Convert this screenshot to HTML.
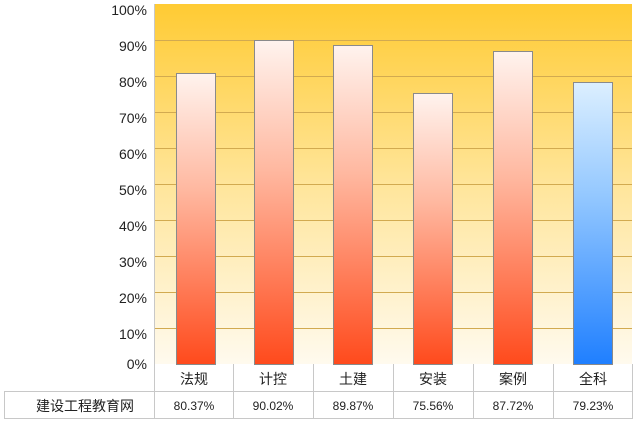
<!DOCTYPE html><html><head><meta charset="utf-8"><style>body{margin:0;background:#fff}svg{display:block}text{font-family:"Liberation Sans","Noto Sans CJK SC",sans-serif}</style></head><body>
<svg width="638" height="422" xmlns="http://www.w3.org/2000/svg">
<defs>
<linearGradient id="bg" x1="0" y1="0" x2="0" y2="1"><stop offset="0" stop-color="#ffcb33"/><stop offset="0.5" stop-color="#ffe59a"/><stop offset="1" stop-color="#fffaee"/></linearGradient>
<linearGradient id="r" x1="0" y1="0" x2="0" y2="1"><stop offset="0" stop-color="#fff3ee"/><stop offset="0.4" stop-color="#ffb8a0"/><stop offset="1" stop-color="#ff4a1c"/></linearGradient>
<linearGradient id="b" x1="0" y1="0" x2="0" y2="1"><stop offset="0" stop-color="#dcefff"/><stop offset="0.4" stop-color="#94c8ff"/><stop offset="1" stop-color="#1f7fff"/></linearGradient>
</defs>
<rect x="154" y="4" width="478" height="360" fill="url(#bg)"/>
<g stroke="#d2aa50" stroke-width="1">
<line x1="154" y1="40.5" x2="632" y2="40.5"/><line x1="154" y1="76.5" x2="632" y2="76.5"/><line x1="154" y1="112.5" x2="632" y2="112.5"/><line x1="154" y1="148.5" x2="632" y2="148.5"/><line x1="154" y1="184.5" x2="632" y2="184.5"/><line x1="154" y1="220.5" x2="632" y2="220.5"/><line x1="154" y1="256.5" x2="632" y2="256.5"/><line x1="154" y1="292.5" x2="632" y2="292.5"/><line x1="154" y1="328.5" x2="632" y2="328.5"/>
</g>
<line x1="154.5" y1="4" x2="154.5" y2="364" stroke="#c8c8c8"/>
<g stroke="#8a8a8a" stroke-width="1">
<rect x="176.5" y="73.5" width="39" height="291" fill="url(#r)"/>
<rect x="254.5" y="40.5" width="39" height="324" fill="url(#r)"/>
<rect x="333.5" y="45.5" width="39" height="319" fill="url(#r)"/>
<rect x="413.5" y="93.5" width="39" height="271" fill="url(#r)"/>
<rect x="493.5" y="51.5" width="39" height="313" fill="url(#r)"/>
<rect x="573.5" y="82.5" width="39" height="282" fill="url(#b)"/>
</g>
<g font-size="14" text-anchor="end" fill="#222">
<text x="147" y="15">100%</text><text x="147" y="51">90%</text><text x="147" y="87">80%</text><text x="147" y="123">70%</text><text x="147" y="159">60%</text><text x="147" y="195">50%</text><text x="147" y="231">40%</text><text x="147" y="267">30%</text><text x="147" y="303">20%</text><text x="147" y="339">10%</text><text x="147" y="369">0%</text>
</g>
<g stroke="#c8c8c8" fill="none">
<line x1="154.5" y1="364" x2="154.5" y2="419"/>
<line x1="233.5" y1="364" x2="233.5" y2="419"/><line x1="313.5" y1="364" x2="313.5" y2="419"/><line x1="393.5" y1="364" x2="393.5" y2="419"/><line x1="473.5" y1="364" x2="473.5" y2="419"/><line x1="553.5" y1="364" x2="553.5" y2="419"/><line x1="632.5" y1="364" x2="632.5" y2="419"/>
<line x1="4" y1="391.5" x2="633" y2="391.5"/><line x1="4" y1="418.5" x2="633" y2="418.5"/><line x1="4.5" y1="391" x2="4.5" y2="419"/>
</g>
<g font-size="14" text-anchor="middle" fill="#222">
<text x="194" y="384">法规</text><text x="273" y="384">计控</text><text x="353" y="384">土建</text><text x="433" y="384">安装</text><text x="513" y="384">案例</text><text x="593" y="384">全科</text>
<text x="85" y="411">建设工程教育网</text>
</g>
<g font-size="12" text-anchor="middle" fill="#222" font-family="Liberation Mono,monospace">
<text x="194" y="410">80.37%</text><text x="273" y="410">90.02%</text><text x="353" y="410">89.87%</text><text x="433" y="410">75.56%</text><text x="513" y="410">87.72%</text><text x="593" y="410">79.23%</text>
</g>
</svg></body></html>
